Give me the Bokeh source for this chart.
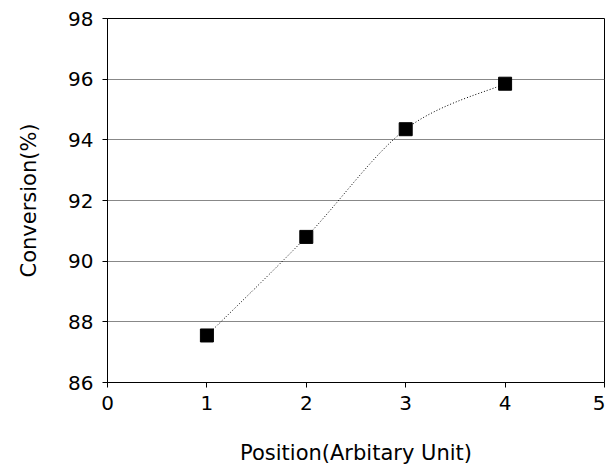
import numpy as np
from bokeh.plotting import figure
from bokeh.models import FixedTicker, Range1d
from bokeh.embed import file_html
from bokeh.resources import INLINE

positions = [1, 2, 3, 4]
conversion = [87.55, 90.8, 94.35, 95.85]
x_ticks = [0, 1, 2, 3, 4, 5]
y_ticks = [86, 88, 90, 92, 94, 96, 98]

FONT = "DejaVu Sans"

p = figure(width=605, height=467, output_backend="svg", toolbar_location=None,
           x_range=Range1d(0, 5), y_range=Range1d(86, 98),
           min_border_left=107, min_border_right=1, min_border_top=18, min_border_bottom=84)
p.background_fill_color = "white"
p.border_fill_color = "white"
p.outline_line_color = "black"
p.outline_line_width = 1

# smooth (Catmull-Rom) dotted curve through the points
xs = np.array(positions, dtype=float)
ys = np.array(conversion, dtype=float)
n = len(xs)
x0s, y0s, x1s, y1s, cx0, cy0, cx1, cy1 = [], [], [], [], [], [], [], []
for i in range(n - 1):
    xm1, ym1 = (xs[i - 1], ys[i - 1]) if i > 0 else (xs[i], ys[i])
    xp2, yp2 = (xs[i + 2], ys[i + 2]) if i + 2 < n else (xs[i + 1], ys[i + 1])
    x0s.append(xs[i]); y0s.append(ys[i]); x1s.append(xs[i + 1]); y1s.append(ys[i + 1])
    cx0.append(xs[i] + (xs[i + 1] - xm1) / 6); cy0.append(ys[i] + (ys[i + 1] - ym1) / 6)
    cx1.append(xs[i + 1] - (xp2 - xs[i]) / 6); cy1.append(ys[i + 1] - (yp2 - ys[i]) / 6)
p.bezier(x0=x0s, y0=y0s, x1=x1s, y1=y1s, cx0=cx0, cy0=cy0, cx1=cx1, cy1=cy1,
         line_color="black", line_width=1, line_dash="1 2")

p.scatter(positions, conversion, marker="square", size=13, fill_color="black", line_color="black")

p.xaxis.ticker = FixedTicker(ticks=x_ticks)
p.yaxis.ticker = FixedTicker(ticks=y_ticks)
for ax in (p.xaxis[0], p.yaxis[0]):
    ax.axis_line_color = "black"
    ax.major_tick_line_color = "black"
    ax.major_tick_in = 0
    ax.major_tick_out = 5
    ax.minor_tick_line_color = None
    ax.major_label_text_font = FONT
    ax.major_label_text_font_size = "20px"
    ax.major_label_text_color = "black"
    ax.axis_label_text_font = FONT
    ax.axis_label_text_font_size = "21px"
    ax.axis_label_text_font_style = "normal"
    ax.axis_label_text_color = "black"

p.xaxis.axis_label = "Position(Arbitary Unit)"
p.yaxis.axis_label = "Conversion(%)"
p.xaxis.major_label_standoff = 8
p.xaxis.axis_label_standoff = 28
p.yaxis.major_label_standoff = 9
p.yaxis.axis_label_standoff = 24

p.xgrid.grid_line_color = None
p.ygrid.grid_line_color = "#888888"
p.ygrid.grid_line_width = 1

open("out.html", "w").write(file_html(p, INLINE))
